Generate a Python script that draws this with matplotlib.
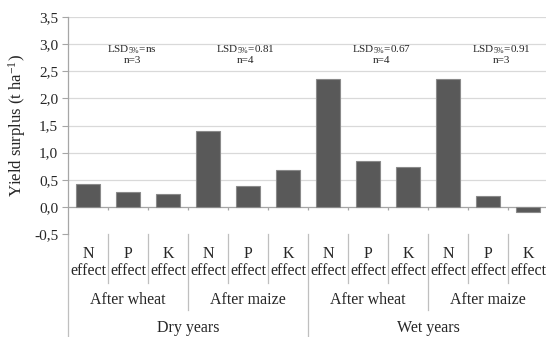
import matplotlib
matplotlib.use("Agg")
from matplotlib import pyplot as plt
from matplotlib.transforms import blended_transform_factory

# yield surplus (t/ha) per nutrient, crop and year type
years = ["Dry years", "Wet years"]
crops = ["After wheat", "After maize"]
nutrients = ["N", "P", "K"]
surplus = [0.43, 0.28, 0.23, 1.39, 0.38, 0.68,
           2.35, 0.85, 0.73, 2.35, 0.20, -0.09]
lsd_text = ["ns", "0.81", "0.67", "0.91"]
n_obs = [3, 4, 4, 3]
lsd_xpos = [1.1, 3.93, 7.33, 10.33]

yticks = [-0.5, 0.0, 0.5, 1.0, 1.5, 2.0, 2.5, 3.0, 3.5]
ytick_labels = ["-0,5", "0,0", "0,5", "1,0", "1,5", "2,0", "2,5", "3,0", "3,5"]

plt.rcParams['font.family'] = ['Liberation Serif', 'DejaVu Serif']
plt.rcParams['mathtext.fontset'] = 'custom'
plt.rcParams['mathtext.rm'] = 'Liberation Serif'
plt.rcParams['mathtext.it'] = 'Liberation Serif:italic'

W, H = 546, 337
fig = plt.figure(figsize=(W / 100, H / 100), dpi=100)
# plot area in pixels: x 68..548, y 17..234 from top
ax = fig.add_axes([68 / W, (H - 234) / H, 480 / W, 217 / H])

grid_col = "#d9d9d9"
axis_col = "#a6a6a6"
txt_col = "#262626"

x = list(range(len(surplus)))
ax.bar(x, surplus, width=0.6, color="#595959", edgecolor="#8a8a8a",
       linewidth=0.8, zorder=3)

ax.set_xlim(-0.5, len(surplus) - 0.5)
ax.set_ylim(-0.5, 3.5)
ax.set_yticks(yticks)
ax.set_yticklabels(ytick_labels, fontsize=11, color=txt_col)
ax.set_xticks([])
ax.tick_params(axis='y', direction='out', length=4, color=axis_col, pad=3)

for s in ["top", "right", "bottom"]:
    ax.spines[s].set_visible(False)
ax.spines["left"].set_color(axis_col)
ax.spines["left"].set_linewidth(0.9)

for yv in yticks[2:]:
    ax.axhline(yv, color=grid_col, lw=0.9, zorder=0)
ax.axhline(0, color=axis_col, lw=0.9, zorder=2)
# small category ticks on the zero line
ax.vlines([k + 0.5 for k in range(len(surplus) - 1)], 0, -0.06,
          color=axis_col, lw=0.9, zorder=2)

ax.set_ylabel("Yield surplus (t ha$^{-1}$)", fontsize=12, color=txt_col)
ax.yaxis.set_label_coords(-0.084, 0.5)

# LSD / n annotations above each group
for xp, lsd, n in zip(lsd_xpos, lsd_text, n_obs):
    ax.text(xp, 2.89, "LSD$_{5\\%}$=" + lsd, ha="center", va="center",
            fontsize=8, color=txt_col)
    ax.text(xp, 2.69, "n=%d" % n, ha="center", va="center", fontsize=8,
            color=txt_col)

# multi-level category axis below the plot
tr = blended_transform_factory(ax.transData, ax.transAxes)
line_kw = dict(color="#bfbfbf", lw=0.9, clip_on=False, transform=tr)
lab_kw = dict(ha="center", va="center", fontsize=11.5, color=txt_col,
              transform=tr, clip_on=False)

k = 0
for yr in years:
    for crop in crops:
        for nut in nutrients:
            ax.text(k, -0.092, nut, **lab_kw)
            ax.text(k, -0.17, "effect", **lab_kw)
            k += 1
        ax.text(k - 2, -0.304, crop, **lab_kw)
    ax.text(k - 3.5, -0.433, yr, **lab_kw)

for b in range(1, len(surplus)):
    xb = b - 0.5
    if b % 6 == 0:
        ax.plot([xb, xb], [0, -0.475], **line_kw)
    elif b % 3 == 0:
        ax.plot([xb, xb], [0, -0.35], **line_kw)
    else:
        ax.plot([xb, xb], [0, -0.226], **line_kw)
ax.plot([-0.5, -0.5], [0, -0.475], **line_kw)

fig.savefig("out.png", dpi=100)
